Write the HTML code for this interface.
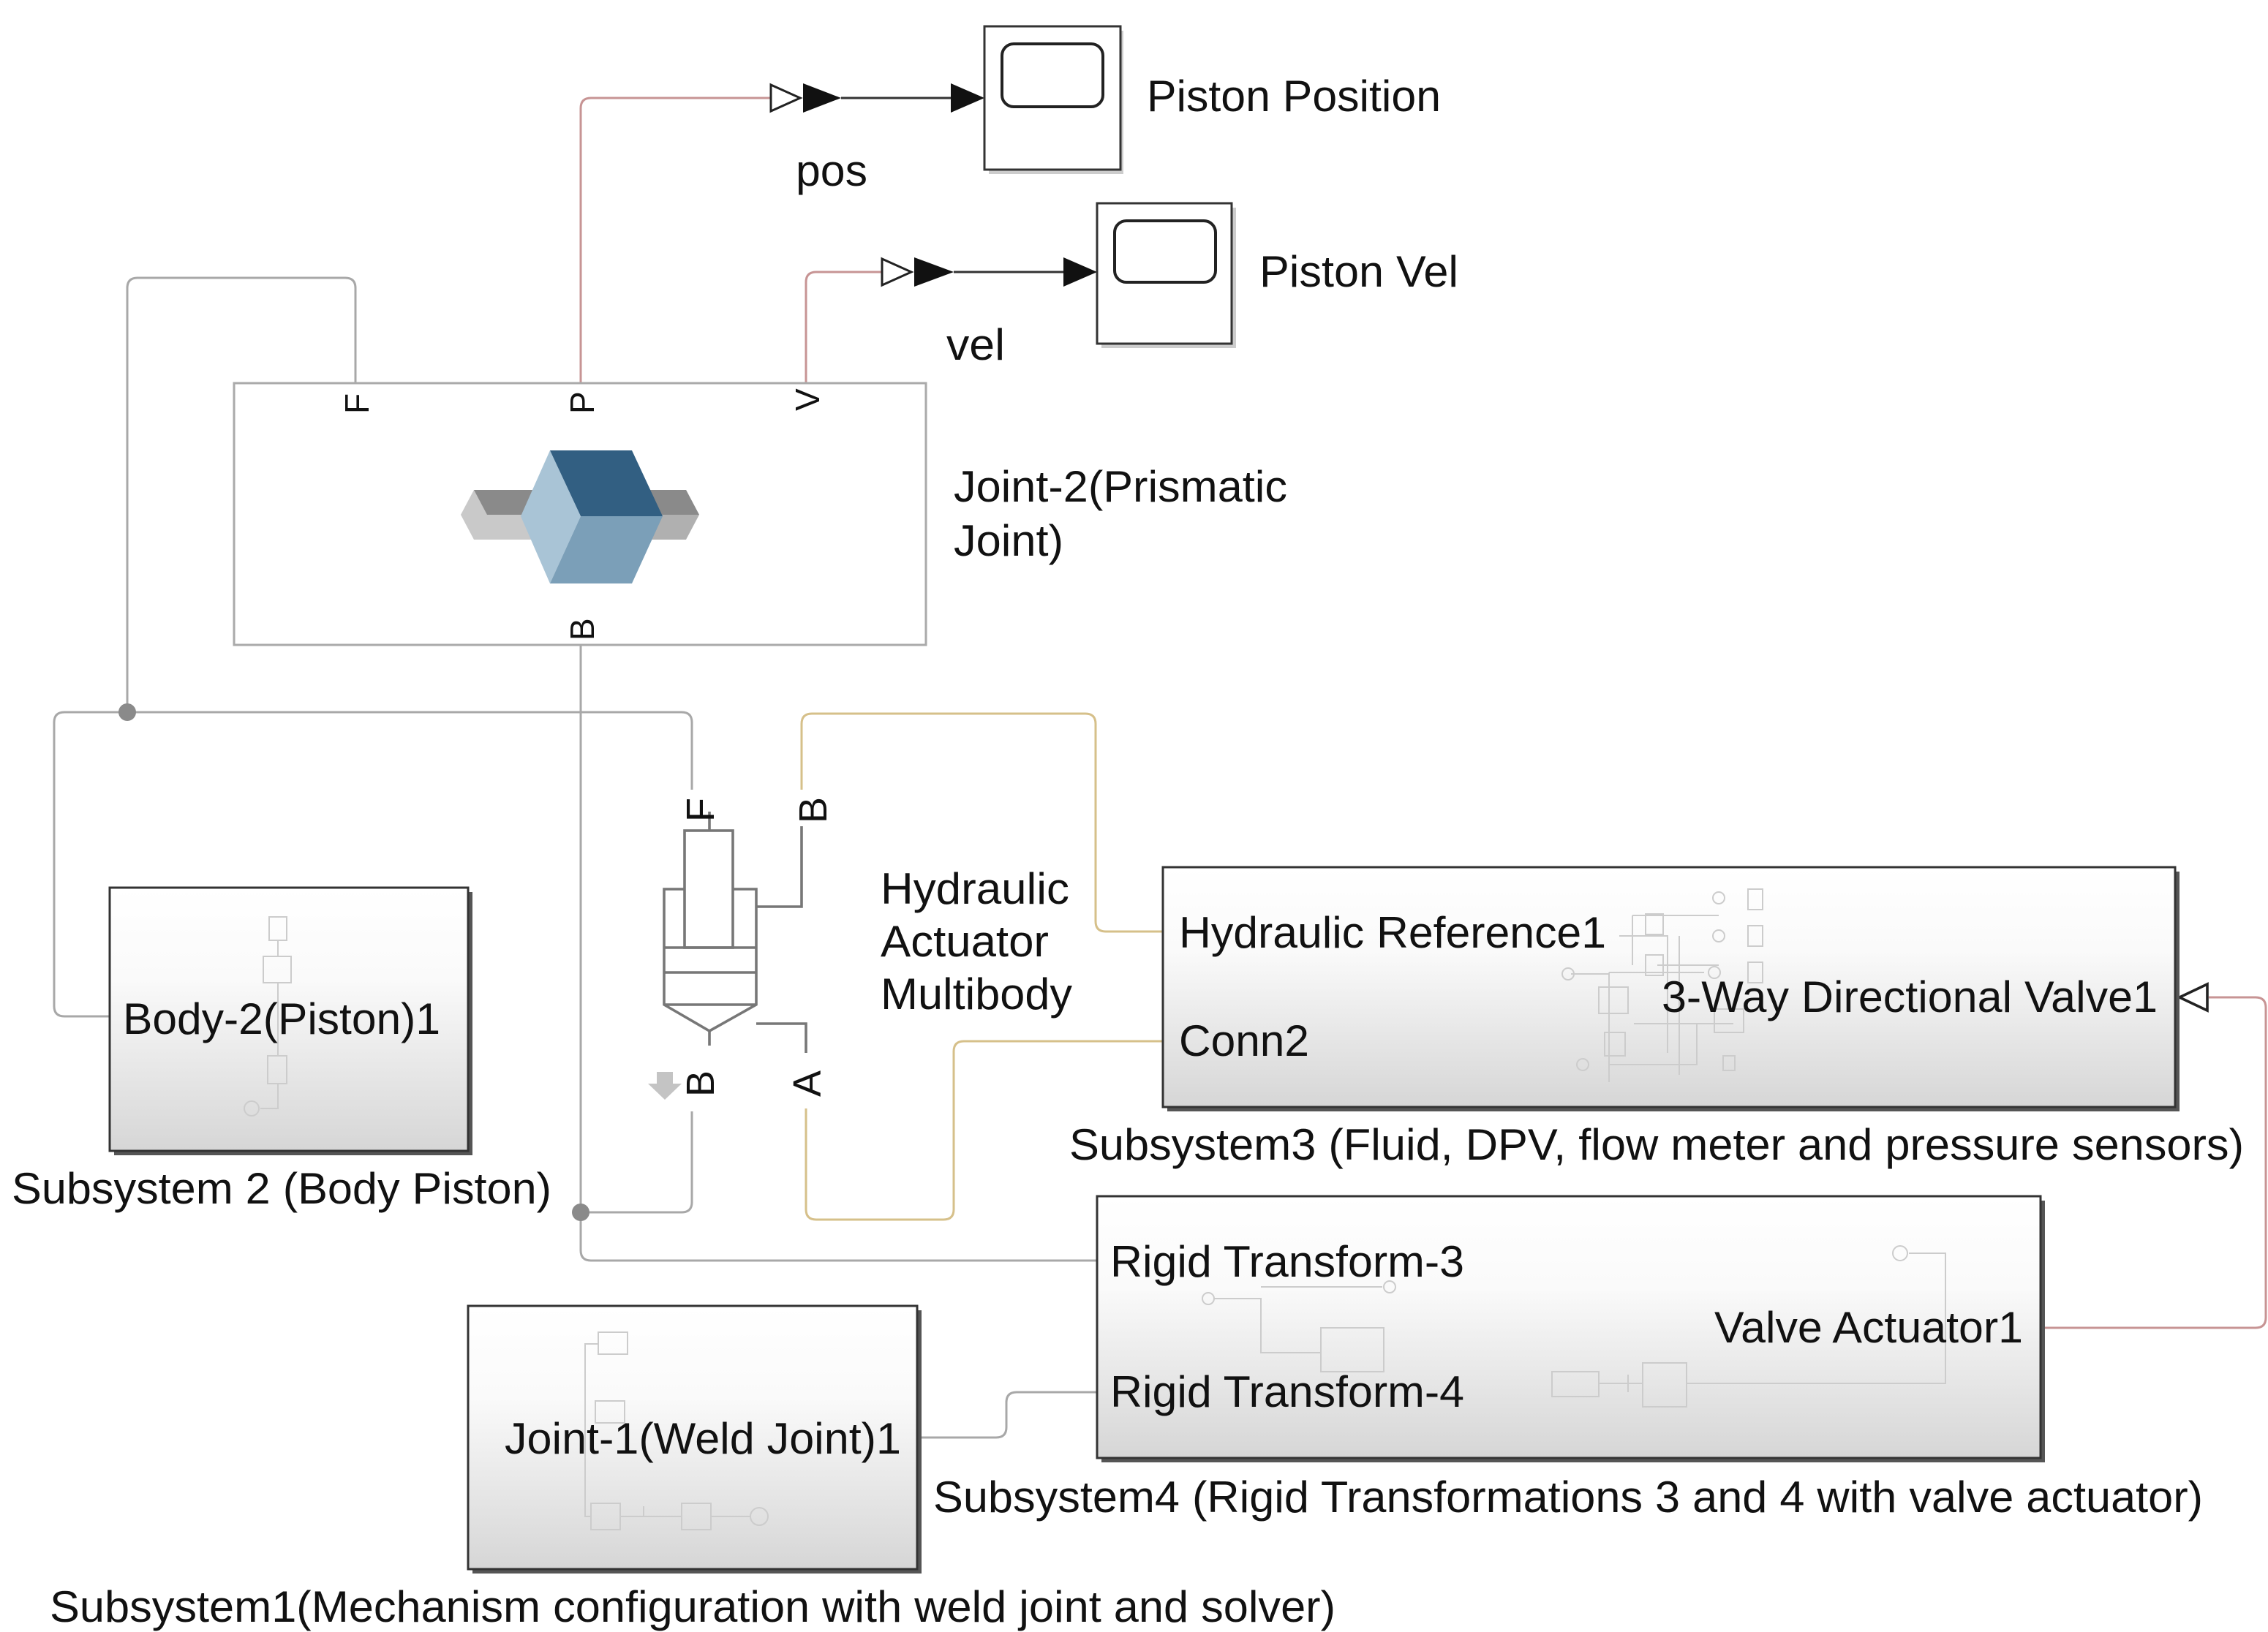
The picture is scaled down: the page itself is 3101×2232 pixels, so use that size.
<!DOCTYPE html>
<html><head><meta charset="utf-8"><style>
html,body{margin:0;padding:0;background:#fff}
svg{display:block}
text{font-family:"Liberation Sans",sans-serif;fill:#111}
</style></head><body>
<svg width="3101" height="2232" viewBox="0 0 1550.5 1116" xmlns="http://www.w3.org/2000/svg">
<defs>
<linearGradient id="g" x1="0" y1="0" x2="0" y2="1">
<stop offset="0" stop-color="#ffffff"/><stop offset="0.35" stop-color="#fafafa"/><stop offset="1" stop-color="#d6d6d6"/>
</linearGradient>
</defs>
<g fill="none" stroke-width="1.5">
<path d="M397 262 V74 Q397 67 404 67 H527" stroke="#c79494"/>
<path d="M575 67 H650" stroke="#333"/>
<path d="M551 262 V193 Q551 186 558 186 H603" stroke="#c79494"/>
<path d="M652 186 H727" stroke="#333"/>
<path d="M1395 908 H1542 Q1549 908 1549 901 V689 Q1549 682 1542 682 H1510" stroke="#c79494"/>
<path d="M243 262 V197 Q243 190 236 190 H94 Q87 190 87 197 V487" stroke="#a8a8a8"/>
<path d="M87 487 H44 Q37 487 37 494 V688 Q37 695 44 695 H75" stroke="#a8a8a8"/>
<path d="M87 487 H466 Q473 487 473 494 V540" stroke="#a8a8a8"/>
<path d="M397 441 V855 Q397 862 404 862 H750" stroke="#a8a8a8"/>
<path d="M397 829 H466 Q473 829 473 822 V760" stroke="#a8a8a8"/>
<path d="M627 983 H681 Q688 983 688 976 V959 Q688 952 695 952 H750" stroke="#a8a8a8"/>
<path d="M548 540 V495 Q548 488 555 488 H742 Q749 488 749 495 V630 Q749 637 756 637 H795" stroke="#d6c08a"/>
<path d="M551 758 V827 Q551 834 558 834 H645 Q652 834 652 827 V719 Q652 712 659 712 H795" stroke="#d6c08a"/>
</g>
<circle cx="87" cy="487" r="6" fill="#8a8a8a"/>
<circle cx="397" cy="829" r="6" fill="#8a8a8a"/>
<path d="M527 58 L547 67 L527 76 Z" fill="#fff" stroke="#222" stroke-width="1.5"/>
<path d="M549 57 L575 67 L549 77 Z" fill="#111"/>
<path d="M650 57 L673 67 L650 77 Z" fill="#111"/>
<path d="M603 177 L623 186 L603 195 Z" fill="#fff" stroke="#222" stroke-width="1.5"/>
<path d="M625 176 L652 186 L625 196 Z" fill="#111"/>
<path d="M727 176 L750 186 L727 196 Z" fill="#111"/>
<path d="M1490 682 L1509 673 L1509 691 Z" fill="#fff" stroke="#222" stroke-width="1.8"/>
<rect x="676" y="21" width="92" height="98" fill="#ccc"/>
<rect x="673" y="18" width="93" height="98" fill="#fff" stroke="#333" stroke-width="1.5"/>
<rect x="685" y="30" width="69" height="43" rx="8" fill="#fff" stroke="#222" stroke-width="2"/>
<rect x="753" y="142" width="92" height="96" fill="#ccc"/>
<rect x="750" y="139" width="92" height="96" fill="#fff" stroke="#333" stroke-width="1.5"/>
<rect x="762" y="151" width="69" height="42" rx="8" fill="#fff" stroke="#222" stroke-width="2"/>
<g font-size="30" lengthAdjust="spacingAndGlyphs">
<text x="784" y="76" textLength="201" lengthAdjust="spacingAndGlyphs">Piston Position</text>
<text x="544" y="127" textLength="49" lengthAdjust="spacingAndGlyphs">pos</text>
<text x="861" y="196" textLength="136" lengthAdjust="spacingAndGlyphs">Piston Vel</text>
<text x="647" y="246" textLength="40" lengthAdjust="spacingAndGlyphs">vel</text>
<text x="652" y="343" textLength="228" lengthAdjust="spacingAndGlyphs">Joint-2(Prismatic</text>
<text x="652" y="380" textLength="75" lengthAdjust="spacingAndGlyphs">Joint)</text>
<text x="602" y="618" textLength="129" lengthAdjust="spacingAndGlyphs">Hydraulic</text>
<text x="602" y="654" textLength="115" lengthAdjust="spacingAndGlyphs">Actuator</text>
<text x="602" y="690" textLength="131" lengthAdjust="spacingAndGlyphs">Multibody</text>
</g>
<rect x="160" y="262" width="473" height="179" fill="#fff" stroke="#aaa" stroke-width="1.5"/>
<g font-size="23">
<text transform="translate(252,283) rotate(-90)" fill="#2f5d55">F</text>
<text transform="translate(406,283) rotate(-90)" fill="#2f5d55">P</text>
<text transform="translate(560,281) rotate(-90)" fill="#2f5d55">V</text>
<text transform="translate(406,438) rotate(-90)" fill="#2f5d55">B</text>
</g>
<polygon points="315,352 324,335 385,335 385,369 324,369" fill="#c9c9c9"/>
<polygon points="324,335 385,335 385,352 333,352" fill="#8a8a8a"/>
<polygon points="420,335 469,335 478,352 469,369 420,369" fill="#b0b0b0"/>
<polygon points="420,335 469,335 478,352 420,352" fill="#8a8a8a"/>
<polygon points="356,353 376,308 397,353 376,399" fill="#a9c4d6"/>
<polygon points="376,308 432,308 453,353 397,353" fill="#325f82"/>
<polygon points="397,353 453,353 432,399 376,399" fill="#7b9fb8"/>
<g fill="none" stroke="#777" stroke-width="1.8">
<rect x="468" y="568" width="33" height="80"/>
<path d="M468 608 H454 V687 L485 705 L517 687 V608 H501"/>
<path d="M454 648 H517 M454 665 H517 M454 687 H517"/>
<path d="M485 555 V568 M485 705 V715"/>
<path d="M517 620 H548 V565 M517 700 H551 V720"/>
</g>
<path d="M449 733 h11 v8 h6 l-11.5 11 l-11.5 -11 h6z" fill="#c4c4c4"/>
<g font-size="27">
<text transform="translate(488,562) rotate(-90)">F</text>
<text transform="translate(565,563) rotate(-90)">B</text>
<text transform="translate(561,750) rotate(-90)">A</text>
<text transform="translate(488,750) rotate(-90)">B</text>
</g>
<rect x="78" y="610" width="245" height="180" fill="#555"/>
<rect x="75" y="607" width="245" height="180" fill="url(#g)" stroke="#333" stroke-width="1.5"/>
<g fill="none" stroke="#ccc" stroke-width="1">
<rect x="184" y="627" width="12" height="16"/><rect x="180" y="654" width="19" height="18"/><rect x="183" y="722" width="13" height="19"/>
<path d="M190 643 V654 M190 672 V722 M190 741 V758 H178"/><circle cx="172" cy="758" r="5"/>
</g>
<rect x="798" y="596" width="692" height="164" fill="#555"/>
<rect x="795" y="593" width="692" height="164" fill="url(#g)" stroke="#333" stroke-width="1.5"/>
<g fill="none" stroke="#ccc" stroke-width="1">
<path d="M1116 626 H1175 M1116 626 V660 M1107 640 H1140 V720 M1133 660 H1175 M1100 665 H1165 M1100 665 V740 M1074 666 H1100 M1148 640 V735 M1100 728 H1160 V700 M1117 700 H1185"/>
<rect x="1195" y="608" width="10" height="14"/><rect x="1195" y="633" width="10" height="14"/><rect x="1195" y="658" width="10" height="14"/>
<rect x="1125" y="625" width="12" height="14"/><rect x="1125" y="653" width="12" height="14"/>
<rect x="1093" y="675" width="20" height="18"/><rect x="1097" y="706" width="14" height="16"/><rect x="1172" y="690" width="20" height="16"/><rect x="1178" y="722" width="8" height="10"/>
<circle cx="1175" cy="614" r="4"/><circle cx="1175" cy="640" r="4"/><circle cx="1172" cy="665" r="4"/><circle cx="1072" cy="666" r="4"/><circle cx="1082" cy="728" r="4"/>
</g>
<rect x="753" y="821" width="645" height="179" fill="#555"/>
<rect x="750" y="818" width="645" height="179" fill="url(#g)" stroke="#333" stroke-width="1.5"/>
<g fill="none" stroke="#ccc" stroke-width="1">
<path d="M830 888 H862 V925 H903 M862 880 H945 M1305 857 H1330 V946 H1153 M1093 946 H1123 M1113 940 V952"/>
<rect x="903" y="908" width="43" height="30"/><rect x="1061" y="938" width="32" height="17"/><rect x="1123" y="932" width="30" height="30"/>
<circle cx="826" cy="888" r="4"/><circle cx="950" cy="880" r="4"/><circle cx="1299" cy="857" r="5"/>
</g>
<rect x="323" y="896" width="307" height="180" fill="#555"/>
<rect x="320" y="893" width="307" height="180" fill="url(#g)" stroke="#333" stroke-width="1.5"/>
<g fill="none" stroke="#ccc" stroke-width="1">
<rect x="409" y="911" width="20" height="15"/><rect x="407" y="958" width="20" height="15"/>
<rect x="404" y="1028" width="20" height="18"/><rect x="466" y="1028" width="20" height="18"/>
<path d="M409 919 H400 V1037 H404 M424 1037 H466 M486 1037 H513 M440 1037 V1030"/><circle cx="519" cy="1037" r="6"/>
</g>
<g font-size="30">
<text x="84" y="707" textLength="217" lengthAdjust="spacingAndGlyphs">Body-2(Piston)1</text>
<text x="8" y="823" textLength="369" lengthAdjust="spacingAndGlyphs">Subsystem 2 (Body Piston)</text>
<text x="806" y="648" textLength="292" lengthAdjust="spacingAndGlyphs">Hydraulic Reference1</text>
<text x="806" y="722" textLength="89" lengthAdjust="spacingAndGlyphs">Conn2</text>
<text x="1136" y="692" textLength="339" lengthAdjust="spacingAndGlyphs">3-Way Directional Valve1</text>
<text x="731" y="793" textLength="803" lengthAdjust="spacingAndGlyphs">Subsystem3 (Fluid, DPV, flow meter and pressure sensors)</text>
<text x="759" y="873" textLength="242" lengthAdjust="spacingAndGlyphs">Rigid Transform-3</text>
<text x="759" y="962" textLength="242" lengthAdjust="spacingAndGlyphs">Rigid Transform-4</text>
<text x="1172" y="918" textLength="211" lengthAdjust="spacingAndGlyphs">Valve Actuator1</text>
<text x="638" y="1034" textLength="868" lengthAdjust="spacingAndGlyphs">Subsystem4 (Rigid Transformations 3 and 4 with valve actuator)</text>
<text x="345" y="994" textLength="271" lengthAdjust="spacingAndGlyphs">Joint-1(Weld Joint)1</text>
<text x="34" y="1109" textLength="879" lengthAdjust="spacingAndGlyphs">Subsystem1(Mechanism configuration with weld joint and solver)</text>
</g>
</svg>
</body></html>
